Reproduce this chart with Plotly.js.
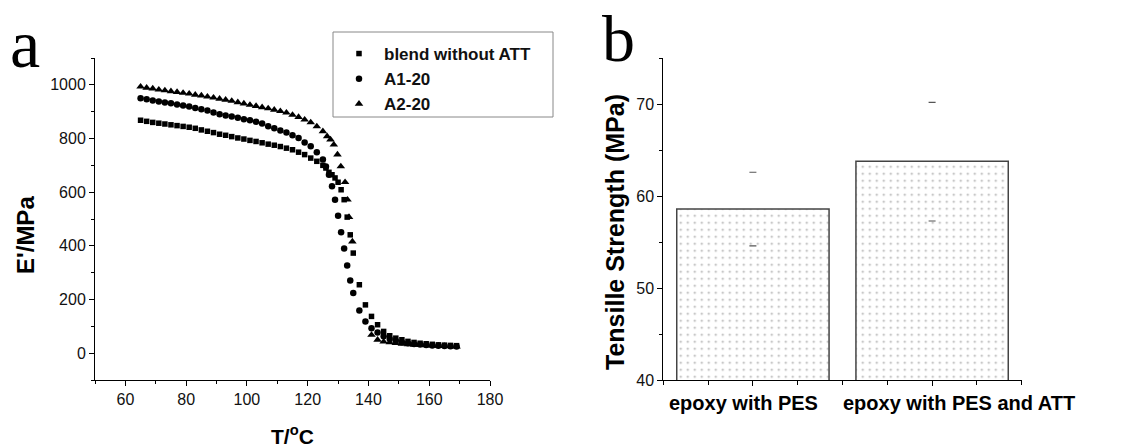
<!DOCTYPE html>
<html>
<head>
<meta charset="utf-8">
<script src="https://cdn.plot.ly/plotly-3.0.1.min.js"></script>
<style>html,body{margin:0;padding:0;background:#fff;}#chart{width:1135px;height:448px;}</style>
</head>
<body>
<div id="chart"></div>
<script>
// ---- Panel a: storage modulus vs temperature ----
var seriesNames = ['blend without ATT', 'A1-20', 'A2-20'];

var tempBlend = [65,67,69,71,73,75,77,79,81,83,85,87,89,91,93,95,97,99,101,103,105,107,109,111,113,115,117,119,121,123,125,126,127,128,129,130,131,132,133,134,135,137,139,141,143,145,147,149,151,153,155,157,159,161,163,165,167,169];
var eBlend    = [868,864,860,857,854,851,848,845,842,838,832,827,822,816,812,807,802,798,793,789,784,779,775,770,764,758,749,740,727,715,700,690,674,665,653,637,609,572,507,441,373,255,180,137,106,81,65,56,50,44,40,37,35,33,31,30,29,28];

var tempA1 = [65,67,69,71,73,75,77,79,81,83,85,87,89,91,93,95,97,99,101,103,105,107,109,111,113,115,117,119,121,123,125,126,127,128,129,130,131,132,133,134,135,137,139,141,143,145,147,149,151,153,155,157,159,161,163,165,167,169];
var eA1    = [950,946,942,938,934,931,927,923,919,914,909,904,897,890,886,882,877,872,868,862,856,846,838,830,822,812,802,785,771,749,722,696,665,622,572,512,451,390,327,271,224,159,118,93,77,63,53,46,41,37,34,32,30,29,28,27,26,25];

var tempA2 = [65,67,69,71,73,75,77,79,81,83,85,87,89,91,93,95,97,99,101,103,105,107,109,111,113,115,117,119,121,123,125,126.4,127.5,128.6,129.8,130.9,132.3,133.1,133.6,134.7,141,143,145,147,149,151,153,155,157,159,161,163,165,167,169];
var eA2    = [993,989,986,982,979,976,973,970,967,963,960,956,952,948,944,940,935,930,925,921,916,912,907,902,896,888,880,870,860,845,827,808,796,777,740,696,637,572,507,416,68,50,43,40,37,35,33,31,30,29,28,27,26,25,24];

var xTicksA = [60,80,100,120,140,160,180];
var yTicksA = [0,200,400,600,800,1000];

// ---- Panel b: tensile strength ----
var categories = ['epoxy with PES', 'epoxy with PES and ATT'];
var strength   = [58.6, 63.8];
var strengthHigh = [62.6, 70.2];
var strengthLow  = [54.6, 57.3];
var yTicksB = [40,50,60,70];

var catPos = categories.map(function(c,i){return i+1;});

var black = '#000';
var traces = [
  {x: tempBlend, y: eBlend, name: seriesNames[0], type:'scatter', mode:'markers',
   marker:{symbol:'square', size:5.5, color:black}, xaxis:'x', yaxis:'y'},
  {x: tempA1, y: eA1, name: seriesNames[1], type:'scatter', mode:'markers',
   marker:{symbol:'circle', size:6.5, color:black}, xaxis:'x', yaxis:'y'},
  {x: tempA2, y: eA2, name: seriesNames[2], type:'scatter', mode:'markers',
   marker:{symbol:'triangle-up', size:7.5, color:black}, xaxis:'x', yaxis:'y'},
  {x: catPos, y: strength, type:'bar', width:0.85, showlegend:false, xaxis:'x2', yaxis:'y2',
   marker:{color:'#ffffff', line:{color:'#444', width:1.5},
           pattern:{shape:'.', fgcolor:'#b0b0b0', bgcolor:'#ffffff', size:7, solidity:0.07}}},
  {x: catPos, y: strengthHigh, type:'scatter', mode:'markers', showlegend:false, xaxis:'x2', yaxis:'y2',
   marker:{symbol:'line-ew-open', size:5, color:'#555', line:{width:1.2, color:'#555'}}},
  {x: catPos, y: strengthLow, type:'scatter', mode:'markers', showlegend:false, xaxis:'x2', yaxis:'y2',
   marker:{symbol:'line-ew-open', size:5, color:'#555', line:{width:1.2, color:'#555'}}}
];

var sans = 'Liberation Sans, Arial, sans-serif';
var tickFont = {family:sans, size:16, color:'#111'};
var W = 1135, H = 448;
function px(x){return x/W;}
function py(y){return 1 - y/H;}

var axisCommon = {showgrid:false, zeroline:false, showline:true, linecolor:'#000', linewidth:1,
  ticks:'outside', ticklen:5, tickwidth:1, tickcolor:'#000', tickfont:tickFont, automargin:false, mirror:false};

var catShift = [-9, 27];
var catAnnotations = categories.map(function(c,i){
  return {text:c, xref:'x2', yref:'paper', x:catPos[i], y:py(403), xshift:catShift[i],
    xanchor:'center', yanchor:'middle', showarrow:false,
    font:{family:sans, size:20, color:'#000', weight:'bold'}};
});

var layout = {
  width: W, height: H,
  margin:{l:0, r:0, t:0, b:0},
  paper_bgcolor:'#fff', plot_bgcolor:'#fff',
  showlegend:true,
  legend:{x:px(334), y:py(36), xanchor:'left', yanchor:'top',
    borderwidth:0, bgcolor:'rgba(0,0,0,0)',
    font:{family:sans, size:17, color:'#111', weight:'bold'},
    itemwidth:40, tracegroupgap:0},
  shapes:[
    {type:'rect', xref:'paper', yref:'paper', x0:px(333), x1:px(553), y0:py(117), y1:py(32),
     line:{color:'#888', width:1}, fillcolor:'rgba(0,0,0,0)', layer:'below'}
  ],
  xaxis: Object.assign({}, axisCommon, {domain:[px(95), px(490)], range:[50,180],
    tickvals:xTicksA, minor:{dtick:10, tick0:50, ticks:'outside', ticklen:3, tickcolor:'#000'}, anchor:'y'}),
  yaxis: Object.assign({}, axisCommon, {domain:[py(380), py(58)], range:[-100,1100],
    tickvals:yTicksA, minor:{dtick:100, tick0:-100, ticks:'outside', ticklen:3, tickcolor:'#000'}, anchor:'x'}),
  xaxis2: Object.assign({}, axisCommon, {domain:[px(663.3), px(1021.7)], range:[0.5,2.5],
    tickvals:catPos, showticklabels:false,
    minor:{tickmode:'array', tickvals:[0.5,0.75,1.25,1.5,1.75,2.25,2.5], ticks:'outside', ticklen:4, tickcolor:'#000'}, anchor:'y2'}),
  yaxis2: Object.assign({}, axisCommon, {domain:[py(380), py(58.3)], range:[40,75],
    tickvals:yTicksB, minor:{dtick:5, tick0:45, ticks:'outside', ticklen:3, tickcolor:'#000'}, anchor:'x2'}),
  annotations:[
    {text:'a', xref:'paper', yref:'paper', x:px(8), y:py(44), xanchor:'left', yanchor:'middle', showarrow:false,
     font:{family:'Liberation Serif, Times New Roman, serif', size:68, color:'#000'}},
    {text:'b', xref:'paper', yref:'paper', x:px(600), y:py(38), xanchor:'left', yanchor:'middle', showarrow:false,
     font:{family:'Liberation Serif, Times New Roman, serif', size:66, color:'#000'}},
    {text:"E'/MPa", xref:'paper', yref:'paper', x:px(25), y:py(235), xanchor:'center', yanchor:'middle', textangle:-90, showarrow:false,
     font:{family:sans, size:24, color:'#000', weight:'bold'}},
    {text:'T/<sup>o</sup>C', xref:'paper', yref:'paper', x:px(292), y:py(435), xanchor:'center', yanchor:'middle', showarrow:false,
     font:{family:sans, size:21, color:'#000', weight:'bold'}},
    {text:'Tensille Strength (MPa)', xref:'paper', yref:'paper', x:px(615), y:py(232), xanchor:'center', yanchor:'middle', textangle:-90, showarrow:false,
     font:{family:sans, size:25, color:'#000', weight:'bold'}}
  ].concat(catAnnotations)
};

Plotly.newPlot('chart', traces, layout, {displayModeBar:false, staticPlot:true});
</script>
</body>
</html>
